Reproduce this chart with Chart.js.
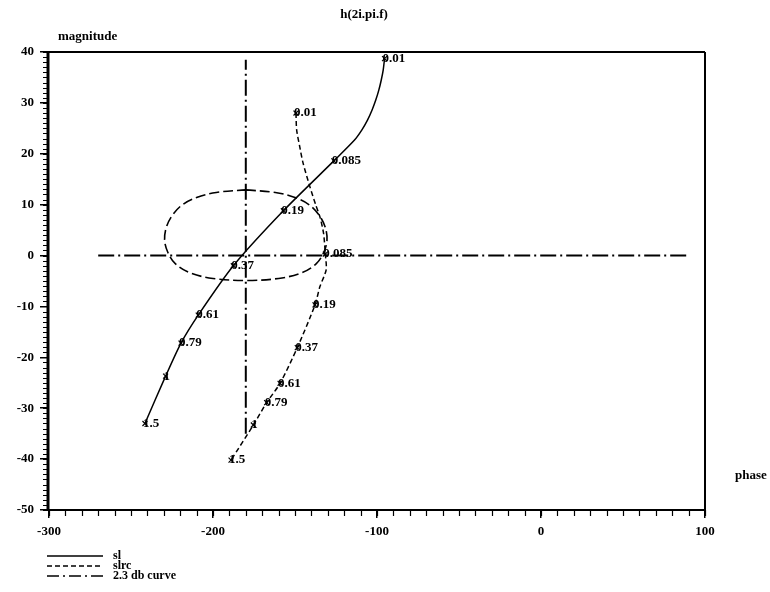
<!DOCTYPE html>
<html>
<head>
<meta charset="utf-8">
<script src="https://cdn.jsdelivr.net/npm/chart.js@4/dist/chart.umd.min.js"></script>
<style>
  html, body { margin: 0; padding: 0; background: #fff; }
  #wrap { width: 770px; height: 592px; }
</style>
</head>
<body>
<div id="wrap"><canvas id="c" width="770" height="592"></canvas></div>
<script>
// Open-loop frequency response "sl" (phase in degrees, magnitude in dB)
const slPhase = [-95.4, -96.2, -97.4, -98.9, -100.7, -103.0, -105.8, -109.2, -113.7, -126.3, -157.1, -187.6, -209.0, -219.5, -228.9, -241.5];
const slMag   = [38.7, 36.5, 34.5, 32.5, 30.6, 28.6, 26.6, 24.7, 22.7, 18.6, 8.8, -2.0, -11.7, -17.2, -23.7, -33.0];
const slFreq  = ['0.01', '', '', '', '', '', '', '', '', '0.085', '0.19', '0.37', '0.61', '0.79', '1', '1.5'];

// Closed-loop response "slrc"
const slrcPhase = [-149.4, -149.0, -147.3, -145.1, -140.9, -137.3, -134.8, -132.6, -131.5, -131.0, -134.8, -137.8, -148.6, -159.1, -167.3, -175.4, -189.0];
const slrcMag   = [28.0, 24.7, 21.7, 18.2, 13.5, 9.9, 7.6, 4.4, 0.3, -2.8, -6.1, -9.7, -18.1, -25.1, -28.9, -33.3, -40.2];
const slrcFreq  = ['0.01', '', '', '', '', '', '', '', '0.085', '', '', '0.19', '0.37', '0.61', '0.79', '1', '1.5'];

// 2.3 dB contour
const contourPhase = [-180, -162, -150, -141, -135, -131.5, -130.5, -132.5, -137, -146, -160, -180, -200, -214, -223, -227.5, -229.5, -228.5, -225, -219, -210, -198, -180];
const contourMag   = [12.9, 12.4, 11.4, 9.9, 7.8, 5.5, 3.0, 0.6, -1.6, -3.4, -4.5, -4.9, -4.5, -3.4, -1.6, 0.6, 3.0, 5.5, 7.8, 9.9, 11.4, 12.4, 12.9];

// Reference lines: 0 dB and -180 degrees
const zeroDbPhase = [-270, 90];
const zeroDbMag   = [0, 0];
const critPhase   = [-180, -180];
const critMag     = [-35, 38.5];

// Axis ticks
const xTickLabels = [-300, -200, -100, 0, 100];
const yTickLabels = [-50, -40, -30, -20, -10, 0, 10, 20, 30, 40];

const FONT = '"Liberation Serif", "DejaVu Serif", serif';
const toPts = (xs, ys) => xs.map((x, i) => ({ x, y: ys[i] }));

const DASH_DOT = [16, 4, 2, 4];
const DASH_SHORT = [5, 3];
const DASH_LONG = [10, 4];

// Frequency annotations next to the cross markers
const freqLabels = {
  id: 'freqLabels',
  afterDatasetsDraw(chart) {
    const ctx = chart.ctx;
    ctx.save();
    ctx.fillStyle = '#000';
    ctx.font = 'bold 13px ' + FONT;
    ctx.textAlign = 'left';
    ctx.textBaseline = 'middle';
    [[0, slFreq], [1, slrcFreq]].forEach(([di, labels]) => {
      const meta = chart.getDatasetMeta(di);
      meta.data.forEach((pt, i) => {
        if (labels[i]) ctx.fillText(labels[i], pt.x - 2, pt.y);
      });
    });
    ctx.restore();
  }
};

// Frame, minor ticks, titles and legend
const decorations = {
  id: 'decorations',
  afterDraw(chart) {
    const ctx = chart.ctx;
    const a = chart.chartArea;
    const xs = chart.scales.x, ys = chart.scales.y;
    ctx.save();
    ctx.strokeStyle = '#000';
    ctx.fillStyle = '#000';

    // frame
    ctx.lineWidth = 2;
    ctx.beginPath();
    ctx.moveTo(a.left, a.top); ctx.lineTo(a.right, a.top);
    ctx.moveTo(a.right, a.top); ctx.lineTo(a.right, a.bottom);
    ctx.moveTo(a.left, a.bottom); ctx.lineTo(a.right, a.bottom);
    ctx.stroke();
    ctx.lineWidth = 3;
    ctx.beginPath();
    ctx.moveTo(a.left - 1, a.top - 1); ctx.lineTo(a.left - 1, a.bottom + 1);
    ctx.stroke();

    // minor ticks
    ctx.lineWidth = 1.2;
    ctx.beginPath();
    for (let v = ys.min; v <= ys.max; v += 1) {
      const p = Math.round(ys.getPixelForValue(v)) + 0.5;
      ctx.moveTo(a.left - 6, p); ctx.lineTo(a.left, p);
    }
    for (let v = xs.min; v <= xs.max; v += 10) {
      const p = Math.round(xs.getPixelForValue(v)) + 0.5;
      ctx.moveTo(p, a.bottom); ctx.lineTo(p, a.bottom + 6);
    }
    ctx.stroke();

    // titles
    ctx.font = 'bold 13px ' + FONT;
    ctx.textBaseline = 'middle';
    ctx.textAlign = 'center';
    ctx.fillText('h(2i.pi.f)', 364, 15);
    ctx.textAlign = 'left';
    ctx.fillText('magnitude', 58, 37);
    ctx.fillText('phase', 735, 476);

    // legend
    const items = [
      { label: 'sl', dash: [] },
      { label: 'slrc', dash: DASH_SHORT },
      { label: '2.3 db curve', dash: [12, 4, 2, 4] }
    ];
    ctx.font = 'bold 12px ' + FONT;
    items.forEach((it, i) => {
      const y = 556 + i * 10;
      ctx.lineWidth = 1.5;
      ctx.setLineDash(it.dash);
      ctx.beginPath();
      ctx.moveTo(47, y); ctx.lineTo(103, y);
      ctx.stroke();
      ctx.setLineDash([]);
      ctx.fillText(it.label, 113, y);
    });
    ctx.restore();
  }
};

new Chart(document.getElementById('c'), {
  type: 'scatter',
  data: {
    datasets: [
      {
        label: 'sl',
        data: toPts(slPhase, slMag),
        showLine: true,
        borderColor: '#000',
        borderWidth: 1.5,
        tension: 0.25,
        pointStyle: 'crossRot',
        pointRadius: c => slFreq[c.dataIndex] ? 3.5 : 0,
        pointBorderColor: '#000',
        pointBorderWidth: 1.2
      },
      {
        label: 'slrc',
        data: toPts(slrcPhase, slrcMag),
        showLine: true,
        borderColor: '#000',
        borderWidth: 1.5,
        borderDash: DASH_SHORT,
        tension: 0.25,
        pointStyle: 'crossRot',
        pointRadius: c => slrcFreq[c.dataIndex] ? 3.5 : 0,
        pointBorderColor: '#000',
        pointBorderWidth: 1.2
      },
      {
        label: '2.3 db curve',
        data: toPts(contourPhase, contourMag),
        showLine: true,
        borderColor: '#000',
        borderWidth: 1.6,
        borderDash: DASH_LONG,
        tension: 0.35,
        pointRadius: 0
      },
      {
        label: '0 dB',
        data: toPts(zeroDbPhase, zeroDbMag),
        showLine: true,
        borderColor: '#000',
        borderWidth: 2,
        borderDash: DASH_DOT,
        pointRadius: 0
      },
      {
        label: '-180',
        data: toPts(critPhase, critMag),
        showLine: true,
        borderColor: '#000',
        borderWidth: 2,
        borderDash: DASH_DOT,
        pointRadius: 0
      }
    ]
  },
  options: {
    responsive: false,
    animation: false,
    devicePixelRatio: 1,
    layout: { padding: { top: 52, right: 65, left: 0, bottom: 0 } },
    plugins: {
      legend: { display: false },
      tooltip: { enabled: false }
    },
    scales: {
      x: {
        type: 'linear',
        min: -300,
        max: 100,
        afterFit: s => { s.height = 82; },
        afterBuildTicks: s => { s.ticks = xTickLabels.map(v => ({ value: v })); },
        ticks: {
          autoSkip: false,
          maxRotation: 0,
          padding: 6,
          color: '#000',
          font: { family: FONT, size: 13, weight: 'bold' }
        },
        grid: { drawOnChartArea: false, color: '#000', lineWidth: 1.5, tickLength: 8 },
        border: { display: false }
      },
      y: {
        type: 'linear',
        min: -50,
        max: 40,
        afterFit: s => { s.width = 49; },
        afterBuildTicks: s => { s.ticks = yTickLabels.map(v => ({ value: v })); },
        ticks: {
          autoSkip: false,
          padding: 6,
          color: '#000',
          font: { family: FONT, size: 13, weight: 'bold' }
        },
        grid: { drawOnChartArea: false, color: '#000', lineWidth: 1.5, tickLength: 9 },
        border: { display: false }
      }
    }
  },
  plugins: [freqLabels, decorations]
});
</script>
</body>
</html>
